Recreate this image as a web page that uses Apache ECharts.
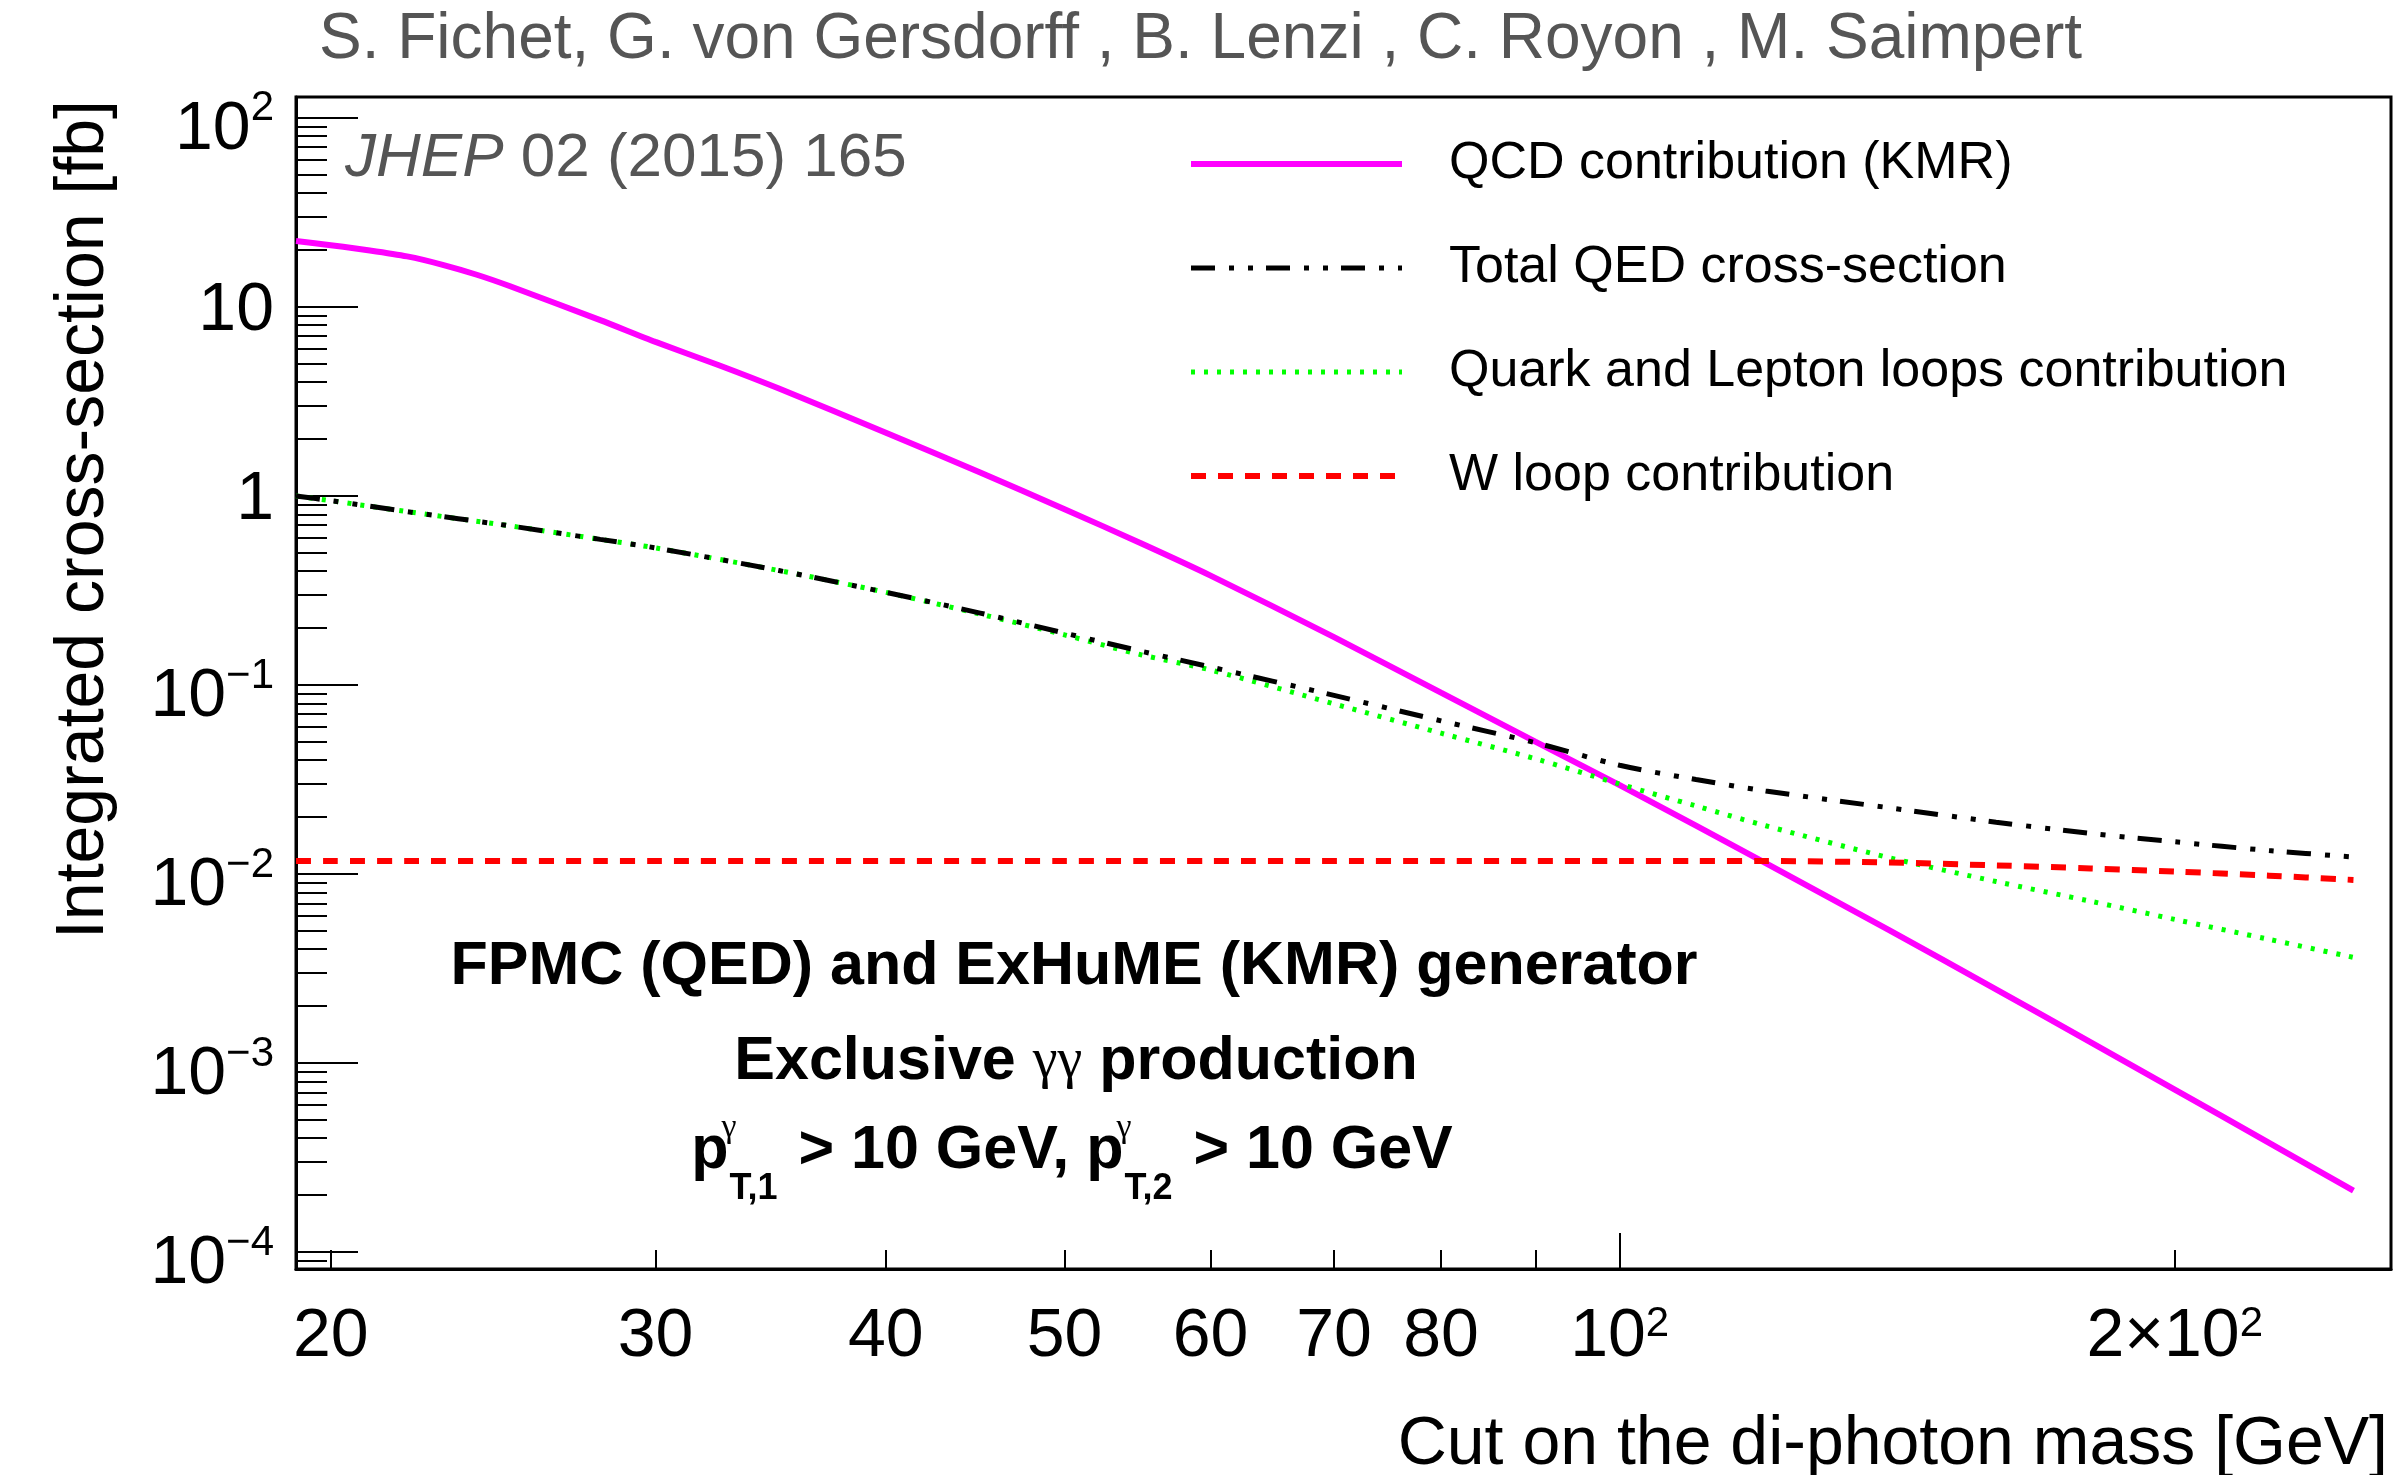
<!DOCTYPE html>
<html>
<head>
<meta charset="utf-8">
<script src="https://cdn.jsdelivr.net/npm/echarts@6/dist/echarts.min.js"></script>
<style>
html,body{margin:0;padding:0;background:#fff;}
#c{width:2403px;height:1475px;}
</style>
</head>
<body>
<div id="c"></div>
<script>
// ---- data ----
const QCD_MASS = [19.15, 20, 21, 22, 23, 24, 25, 28, 30, 32.5, 35, 40, 45, 50, 55, 60, 70, 80, 90, 100, 110, 120, 140, 160, 180, 200, 225, 250];
const QCD_KMR = [22.3, 21.2, 19.9, 18.5, 16.7, 14.8, 12.9, 8.51, 6.53, 4.90, 3.70, 2.16, 1.33, 0.851, 0.562, 0.379, 0.179, 0.091, 0.0501, 0.0295, 0.018, 0.0114, 0.00505, 0.00245, 0.00129, 0.000723, 0.000378, 0.000211];

const MASS = [19.15, 20, 22, 25, 28, 30, 35, 40, 45, 50, 55, 60, 70, 80, 90, 100, 110, 120, 140, 160, 180, 200, 225, 250];
const QED_TOTAL = [1.0, 0.944, 0.826, 0.695, 0.589, 0.531, 0.403, 0.309, 0.240, 0.188, 0.151, 0.1245, 0.0881, 0.0646, 0.0495, 0.0376, 0.0316, 0.0275, 0.0224, 0.0188, 0.0164, 0.0148, 0.0133, 0.0123];
const QL_LOOPS = [1.0, 0.944, 0.826, 0.695, 0.589, 0.531, 0.403, 0.309, 0.237, 0.184, 0.1445, 0.120, 0.0794, 0.0556, 0.0407, 0.0299, 0.0229, 0.0180, 0.0122, 0.00912, 0.00718, 0.00575, 0.00451, 0.00362];
const W_LOOP = [0.0117, 0.0117, 0.0117, 0.0117, 0.0117, 0.0117, 0.0117, 0.0117, 0.0117, 0.0117, 0.0117, 0.0117, 0.0117, 0.0117, 0.0117, 0.0117, 0.0117, 0.0117, 0.0115, 0.0111, 0.0107, 0.0103, 0.0098, 0.0093];

const SERIES_NAMES = ['QCD contribution (KMR)', 'Total QED cross-section', 'Quark and Lepton loops contribution', 'W loop contribution'];

const X_TICKS = [20, 30, 40, 50, 60, 70, 80, 100, 200];
const X_TICK_LABELS = ['20', '30', '40', '50', '60', '70', '80', '10{sup|2}', '2×10{sup|2}'];
const X_MINOR_TICKS = [20, 30, 40, 50, 60, 70, 80, 90, 200];
const X_MAJOR_TICKS = [100];

const Y_TICKS = [1e-4, 1e-3, 1e-2, 1e-1, 1, 10, 100];
const Y_TICK_LABELS = ['{b|10}{sup|−4}', '{b|10}{sup|−3}', '{b|10}{sup|−2}', '{b|10}{sup|−1}', '1', '10', '{b|10}{sup|2}'];

const X_MIN = 19.15, X_MAX = 262;
const Y_MIN = 8.13e-5, Y_MAX = 129;

// minor ticks 2..9 per decade (plus 9e-5)
const Y_MINOR_TICKS = [9e-5];
for (let e = -4; e <= 1; e++) for (let k = 2; k <= 9; k++) Y_MINOR_TICKS.push(+(k * Math.pow(10, e)).toPrecision(3));

// ---- chart ----
const FONT = "'Liberation Sans', Arial, Helvetica, sans-serif";
const SERIF = "'Liberation Serif', 'DejaVu Serif', serif";
const chart = echarts.init(document.getElementById('c'), null, {renderer: 'canvas', width: 2403, height: 1475});

const pairs = (xs, ys) => xs.map((m, i) => [m, ys[i]]);
const findIdx = (arr, v) => arr.findIndex(t => Math.abs(t - v) / t < 1e-6);

const DASH_QED = [24, 14, 5, 14, 5, 13];
const DOT_QL = [4, 9];
const DASH_W = [15, 12];

const option = {
  animation: false,
  backgroundColor: '#fff',
  grid: {left: 296, right: 12, top: 97, bottom: 206, show: true, borderColor: '#000', borderWidth: 3, backgroundColor: 'transparent'},
  xAxis: [
    {
      type: 'log', min: X_MIN, max: X_MAX, position: 'bottom',
      axisLine: {show: true, lineStyle: {color: '#000', width: 3}},
      axisTick: {show: true, inside: true, length: 36, customValues: X_MAJOR_TICKS, lineStyle: {color: '#000', width: 2}},
      minorTick: {show: false},
      splitLine: {show: false},
      axisLabel: {
        show: true, customValues: X_TICKS, margin: 34, color: '#000', fontSize: 68, lineHeight: 68, fontFamily: FONT,
        formatter: v => { const i = findIdx(X_TICKS, v); return i >= 0 ? X_TICK_LABELS[i] : ''; },
        rich: {sup: {fontSize: 42, lineHeight: 20, verticalAlign: 'top', color: '#000', fontFamily: FONT}}
      }
    },
    {
      type: 'log', min: X_MIN, max: X_MAX, position: 'bottom',
      axisLine: {show: false},
      axisTick: {show: true, inside: true, length: 19, customValues: X_MINOR_TICKS, lineStyle: {color: '#000', width: 2}},
      axisLabel: {show: false},
      splitLine: {show: false}
    }
  ],
  yAxis: [
    {
      type: 'log', min: Y_MIN, max: Y_MAX, position: 'left',
      axisLine: {show: true, lineStyle: {color: '#000', width: 3}},
      axisTick: {show: true, inside: true, length: 62, customValues: Y_TICKS, lineStyle: {color: '#000', width: 2}},
      minorTick: {show: false},
      splitLine: {show: false},
      axisLabel: {
        show: true, customValues: Y_TICKS, margin: 22, color: '#000', fontSize: 68, lineHeight: 68, fontFamily: FONT,
        padding: [8, 0, 0, 0],
        formatter: v => { const i = findIdx(Y_TICKS, v); return i >= 0 ? Y_TICK_LABELS[i] : ''; },
        rich: {
          b: {fontSize: 68, lineHeight: 68, padding: [8, 0, 0, 0], verticalAlign: 'top', color: '#000', fontFamily: FONT},
          sup: {fontSize: 42, lineHeight: 32, verticalAlign: 'top', color: '#000', fontFamily: FONT}
        }
      }
    },
    {
      type: 'log', min: Y_MIN, max: Y_MAX, position: 'left',
      axisLine: {show: false},
      axisTick: {show: true, inside: true, length: 31, customValues: Y_MINOR_TICKS, lineStyle: {color: '#000', width: 2}},
      axisLabel: {show: false},
      splitLine: {show: false}
    }
  ],
  legend: {
    orient: 'vertical', left: 1188, top: 134, padding: 0, itemWidth: 211, itemHeight: 60, itemGap: 44,
    selectedMode: false,
    itemStyle: {opacity: 0},
    textStyle: {fontSize: 52, lineHeight: 60, color: '#000', fontFamily: FONT, padding: [0, 0, 0, 42]},
    data: [
      {name: SERIES_NAMES[0], lineStyle: {color: '#ff00ff', width: 6, type: 'solid'}},
      {name: SERIES_NAMES[1], lineStyle: {color: '#000000', width: 5, type: DASH_QED}},
      {name: SERIES_NAMES[2], lineStyle: {color: '#00ff00', width: 5, type: DOT_QL}},
      {name: SERIES_NAMES[3], lineStyle: {color: '#ff0000', width: 6, type: DASH_W}}
    ]
  },
  series: [
    {name: SERIES_NAMES[0], type: 'line', xAxisIndex: 0, yAxisIndex: 0, data: pairs(QCD_MASS, QCD_KMR), symbol: 'none', showSymbol: false, smooth: 0.25,
     itemStyle: {color: '#ff00ff'}, lineStyle: {color: '#ff00ff', width: 6}},
    {name: SERIES_NAMES[2], type: 'line', xAxisIndex: 0, yAxisIndex: 0, data: pairs(MASS, QL_LOOPS), symbol: 'none', showSymbol: false, smooth: 0.3,
     itemStyle: {color: '#00ff00'}, lineStyle: {color: '#00ff00', width: 5, type: DOT_QL}},
    {name: SERIES_NAMES[1], type: 'line', xAxisIndex: 0, yAxisIndex: 0, data: pairs(MASS, QED_TOTAL), symbol: 'none', showSymbol: false, smooth: 0.3,
     itemStyle: {color: '#000000'}, lineStyle: {color: '#000000', width: 5, type: DASH_QED}},
    {name: SERIES_NAMES[3], type: 'line', xAxisIndex: 0, yAxisIndex: 0, data: pairs(MASS, W_LOOP), symbol: 'none', showSymbol: false, smooth: 0.3,
     itemStyle: {color: '#ff0000'}, lineStyle: {color: '#ff0000', width: 6, type: DASH_W}}
  ],
  graphic: [
    {type: 'text', x: 319, y: 40, silent: true,
     style: {text: 'S. Fichet, G. von Gersdorff , B. Lenzi , C. Royon , M. Saimpert', fill: '#555555', fontSize: 64, fontFamily: FONT,
             align: 'left', textAlign: 'left', verticalAlign: 'middle', textVerticalAlign: 'middle'}},
    {type: 'text', x: 345, y: 159, silent: true,
     style: {text: '{i|JHEP} 02 (2015) 165', fill: '#555555', fontSize: 62, fontFamily: FONT,
             align: 'left', textAlign: 'left', verticalAlign: 'middle', textVerticalAlign: 'middle',
             rich: {i: {fontStyle: 'italic', fontSize: 62, fontFamily: FONT, fill: '#555555'}}}},
    {type: 'text', x: 84, y: 100, rotation: Math.PI / 2, silent: true,
     style: {text: 'Integrated cross-section [fb]', fill: '#000', fontSize: 68, fontFamily: FONT,
             align: 'right', textAlign: 'right', verticalAlign: 'middle', textVerticalAlign: 'middle'}},
    {type: 'text', x: 2388, y: 1445, silent: true,
     style: {text: 'Cut on the di-photon mass [GeV]', fill: '#000', fontSize: 68, fontFamily: FONT,
             align: 'right', textAlign: 'right', verticalAlign: 'middle', textVerticalAlign: 'middle'}},
    {type: 'text', x: 1074, y: 967, silent: true,
     style: {text: 'FPMC (QED) and ExHuME (KMR) generator', fill: '#000', fontSize: 61, fontWeight: 'bold', fontFamily: FONT,
             align: 'center', textAlign: 'center', verticalAlign: 'middle', textVerticalAlign: 'middle'}},
    {type: 'text', x: 1076, y: 1062, silent: true,
     style: {text: 'Exclusive {g|γγ} production', fill: '#000', fontSize: 61, fontWeight: 'bold', fontFamily: FONT,
             align: 'center', textAlign: 'center', verticalAlign: 'middle', textVerticalAlign: 'middle',
             rich: {g: {fontSize: 56, fontWeight: 'normal', fontFamily: SERIF, fill: '#000'}}}},
    {type: 'text', x: 1072, y: 1130, silent: true,
     style: {text: '{b|p}{sup|γ}{sub|T,1}{b| > 10 GeV, p}{sup|γ}{sub|T,2}{b| > 10 GeV}', fill: '#000', fontSize: 61, fontWeight: 'bold', fontFamily: FONT,
             align: 'center', textAlign: 'center', verticalAlign: 'middle', textVerticalAlign: 'middle',
             rich: {
               b: {fontSize: 61, fontWeight: 'bold', fontFamily: FONT, lineHeight: 62, padding: [22, 0, 0, 0], verticalAlign: 'top', fill: '#000'},
               sup: {fontSize: 34, fontWeight: 'normal', fontFamily: SERIF, lineHeight: 36, padding: [12, 0, 0, 0], verticalAlign: 'top', width: 1, fill: '#000'},
               sub: {fontSize: 36, fontWeight: 'bold', fontFamily: FONT, lineHeight: 36, padding: [72, 4, 0, 0], verticalAlign: 'top', fill: '#000'}
             }}}
  ]
};
chart.setOption(option);
</script>
</body>
</html>
